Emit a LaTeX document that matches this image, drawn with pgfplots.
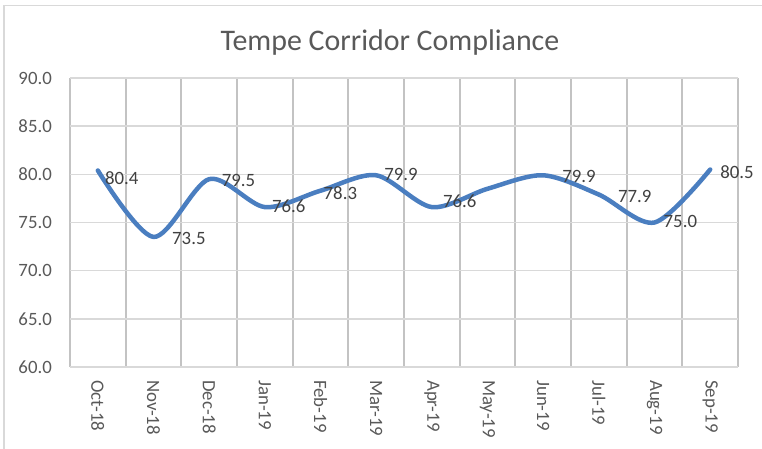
\documentclass[border=0pt]{standalone}
\usepackage{pgfplots}
\usepackage{pgfplotstable}
\pgfplotsset{compat=1.18}
\usepackage{fontspec}
\setmainfont{Carlito}
\definecolor{linec}{RGB}{74,126,192}
\definecolor{txt}{RGB}{89,89,89}
\definecolor{lbl}{RGB}{64,64,64}
\definecolor{hgrid}{RGB}{217,217,217}
\definecolor{vgrid}{RGB}{195,195,195}
\definecolor{framec}{RGB}{217,217,217}

\pgfplotstableread{
x y
0 80.4
1 73.5
2 79.5
3 76.6
4 78.3
5 79.9
6 76.6
7 78.5
8 79.9
9 77.9
10 75.0
11 80.5
}\maindata

\pgfplotstableread{
x y dx dy
0 80.4 7 -7.6
1 73.5 18.5 -1.5
2 79.5 12.5 -1
3 76.6 7 0.6
4 78.3 3 -2.8
5 79.9 8 0.8
6 76.6 11 5.5
8 79.9 19 -0.7
9 77.9 19 -1.5
10 75.0 9 1
11 80.5 10 -3
}\labeldata

\begin{document}
\begin{tikzpicture}[x=1bp,y=1bp]
\useasboundingbox (0,0) rectangle (762,449);
\draw[framec, line width=1.2bp] (4,0) -- (4,443.5) -- (762,443.5);
\node[text=txt, font=\fontsize{29.9bp}{34bp}\selectfont, anchor=base, inner sep=0pt] at (390,398.3) {Tempe Corridor Compliance};
\begin{axis}[
  at={(70bp,82bp)}, anchor=south west,
  scale only axis, width=668bp, height=289bp,
  xmin=-0.5, xmax=11.5, ymin=60, ymax=90,
  xtick={0,1,...,11},
  xticklabels={Oct-18,Nov-18,Dec-18,Jan-19,Feb-19,Mar-19,Apr-19,May-19,Jun-19,Jul-19,Aug-19,Sep-19},
  minor xtick={-0.5,0.5,1.5,2.5,3.5,4.5,5.5,6.5,7.5,8.5,9.5,10.5,11.5},
  xminorgrids, minor grid style={vgrid, line width=2bp},
  ytick={60,65,...,90},
  ymajorgrids, major grid style={hgrid, line width=1.5bp},
  axis line style={draw=none},
  major tick length=0pt, minor tick length=0pt,
  tick style={draw=none},
  /pgf/number format/assume math mode=true,
  yticklabel={\pgfmathprintnumber[fixed,fixed zerofill,precision=1]{\tick}},
  yticklabel style={anchor=east, inner sep=0pt, xshift=-18bp, text=txt, font=\fontsize{18.8bp}{22bp}\selectfont},
  xticklabel style={yshift=-13bp, rotate=-90, anchor=west, inner sep=0pt, text=txt, font=\fontsize{18.8bp}{22bp}\selectfont},
  clip=false,
]
\addplot[linec, line width=4.5bp, smooth, line cap=round, line join=round] table[x=x,y=y] {\maindata};
\addplot[draw=none, mark=none,
  visualization depends on={\thisrow{dx}\as\dx},
  visualization depends on={\thisrow{dy}\as\dy},
  point meta=y,
  nodes near coords={\pgfmathprintnumber[fixed,fixed zerofill,precision=1]{\pgfplotspointmeta}},
  every node near coord/.append style={anchor=west, inner sep=0pt, xshift=\dx bp, yshift=\dy bp, text=lbl, font=\fontsize{18.8bp}{22bp}\selectfont},
] table[x=x,y=y] {\labeldata};
\end{axis}
\end{tikzpicture}
\end{document}
